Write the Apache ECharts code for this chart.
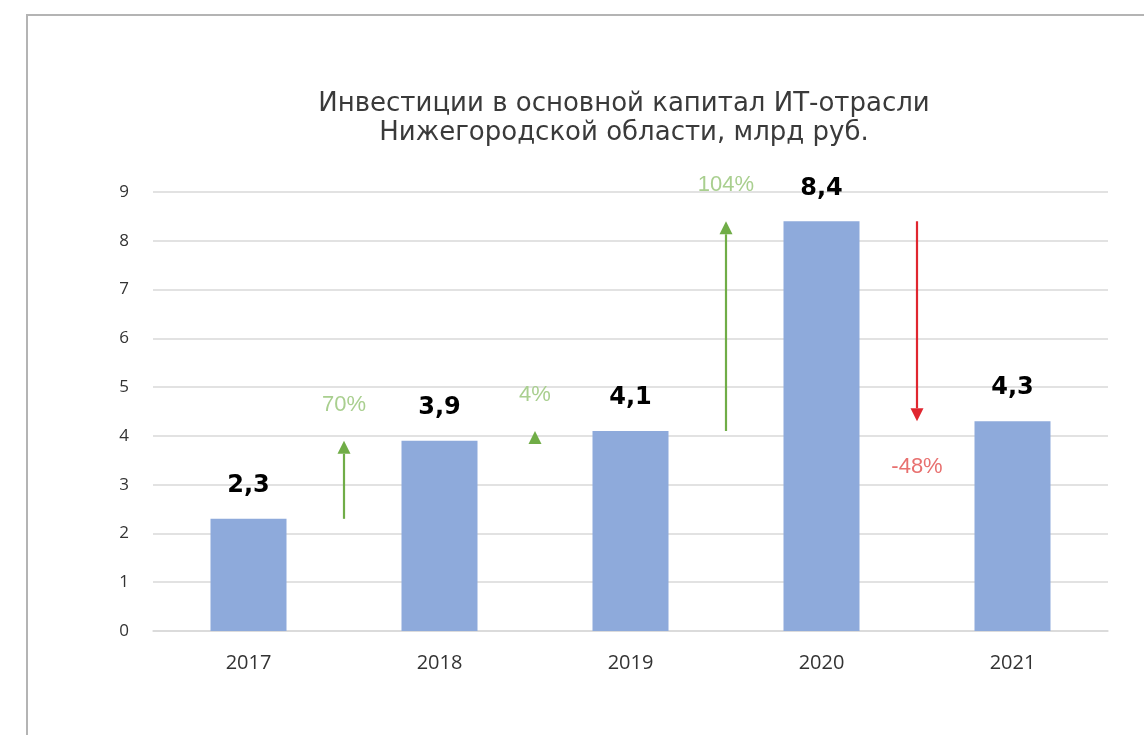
<!DOCTYPE html>
<html>
<head>
<meta charset="utf-8">
<title>Инвестиции в основной капитал ИТ-отрасли</title>
<script src="https://cdn.jsdelivr.net/npm/echarts@6/dist/echarts.min.js"></script>
<style>
  html, body { margin: 0; padding: 0; background: #ffffff; }
  #chart { width: 1144px; height: 735px; }
</style>
</head>
<body>
<div id="chart"></div>
<script>
// Years and investment volume, bn rubles
const years = ['2017', '2018', '2019', '2020', '2021'];
const investments = [2.3, 3.9, 4.1, 8.4, 4.3];
// Year-over-year change labels shown next to the arrows
const changeLabels = ['70%', '4%', '104%', '-48%'];
// Value axis ticks
const yTicks = [0, 1, 2, 3, 4, 5, 6, 7, 8, 9];

const fmt = v => String(v).replace('.', ',');

// One arrow per pair of neighbouring years, placed on the boundary between them
const arrowData = changeLabels.map((lab, i) => [i + 1, investments[i], investments[i + 1], lab]);

const GREEN = '#70ad47';
const GREEN_TEXT = '#a9cf8f';
const RED = '#e0262f';
const RED_TEXT = '#e8706f';

function renderArrow(params, api) {
  const x = api.value(0);
  const from = api.value(1);
  const to = api.value(2);
  const label = changeLabels[params.dataIndex];
  const p0 = api.coord([x, from]);
  const p1 = api.coord([x, to]);
  const up = to >= from;
  const color = up ? GREEN : RED;
  const headLen = 13, headHalf = 6.5;
  const dir = up ? 1 : -1; // +1 means the tip points upward (smaller pixel y)
  const baseY = p1[1] + dir * headLen;
  const children = [];
  // shaft, only when it is longer than the head
  if ((p0[1] - baseY) * dir > 0) {
    children.push({
      type: 'line',
      shape: { x1: p0[0], y1: p0[1], x2: p0[0], y2: baseY },
      style: { stroke: color, lineWidth: 2.2 }
    });
  }
  children.push({
    type: 'polygon',
    shape: { points: [[p1[0], p1[1]], [p1[0] - headHalf, baseY], [p1[0] + headHalf, baseY]] },
    style: { fill: color }
  });
  children.push({
    type: 'text',
    x: p1[0],
    y: up ? p1[1] - 36 : p1[1] + 46,
    style: {
      text: label,
      fill: up ? GREEN_TEXT : RED_TEXT,
      font: '22px "Liberation Sans", Arial, sans-serif',
      align: 'center',
      verticalAlign: 'middle'
    }
  });
  return { type: 'group', children: children };
}

const chart = echarts.init(document.getElementById('chart'), null, { renderer: 'canvas' });

chart.setOption({
  backgroundColor: '#ffffff',
  animation: false,
  title: {
    text: 'Инвестиции в основной капитал ИТ-отрасли\nНижегородской области, млрд руб.',
    left: 619,
    top: 85,
    textAlign: 'center',
    textStyle: {
      fontFamily: '"DejaVu Sans", Verdana, sans-serif',
      fontSize: 26,
      fontWeight: 'normal',
      color: '#3a3a3a',
      lineHeight: 29
    }
  },
  graphic: [{
    type: 'rect',
    shape: { x: 27, y: 15, width: 1200, height: 800 },
    style: { fill: 'none', stroke: '#b4b4b4', lineWidth: 2 },
    silent: true,
    z: -1
  }],
  grid: { left: 153, right: 36, top: 192, bottom: 104 },
  xAxis: [{
    type: 'category',
    data: years,
    axisLine: { show: true, lineStyle: { color: '#d9d9d9', width: 1.5 } },
    axisTick: { show: false },
    axisLabel: {
      color: '#333333',
      fontSize: 20,
      fontFamily: '"Open Sans", "Liberation Sans", sans-serif',
      margin: 22
    }
  }, {
    type: 'value',
    min: 0,
    max: years.length,
    show: false
  }],
  yAxis: {
    type: 'value',
    min: yTicks[0],
    max: yTicks[yTicks.length - 1],
    interval: 1,
    axisLine: { show: false },
    axisTick: { show: false },
    splitLine: { lineStyle: { color: '#d9d9d9', width: 1.5 } },
    axisLabel: {
      color: '#333333',
      fontSize: 17,
      fontFamily: '"Open Sans", "Liberation Sans", sans-serif',
      margin: 24
    }
  },
  series: [{
    type: 'bar',
    data: investments,
    barWidth: 76,
    itemStyle: { color: '#8eaadb' },
    label: {
      show: true,
      position: 'top',
      distance: 21,
      formatter: p => fmt(p.value),
      color: '#000000',
      fontSize: 24,
      fontWeight: 'bold',
      fontFamily: '"DejaVu Sans", "Liberation Sans", sans-serif'
    }
  }, {
    type: 'custom',
    xAxisIndex: 1,
    yAxisIndex: 0,
    data: arrowData,
    renderItem: renderArrow,
    z: 5
  }]
});
</script>
</body>
</html>
